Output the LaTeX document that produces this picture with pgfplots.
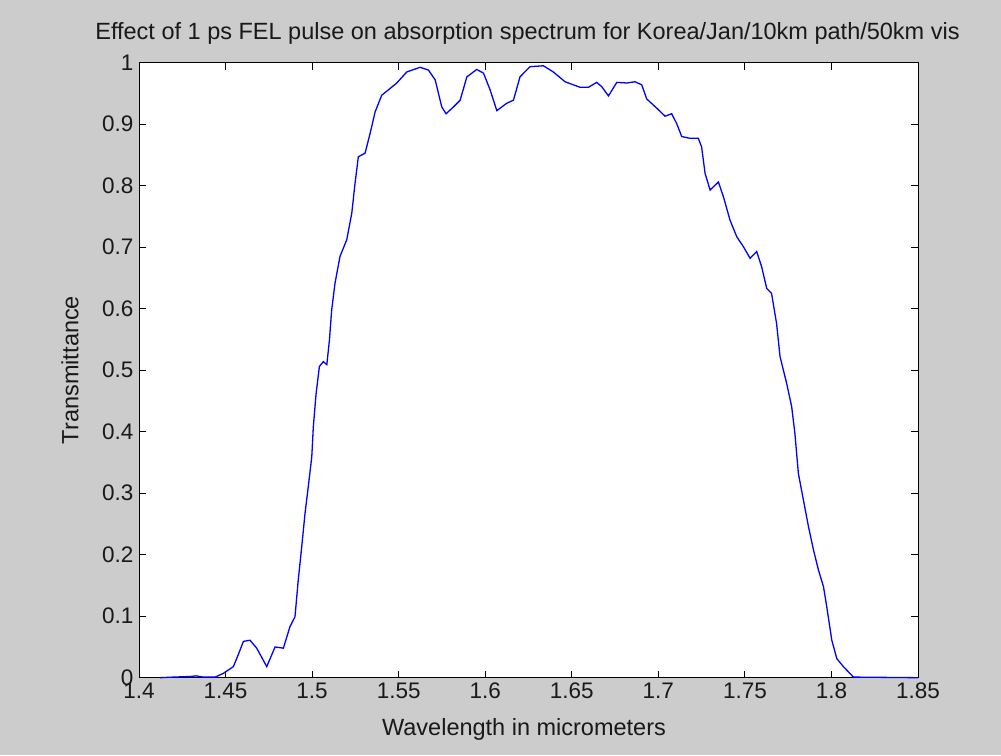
\documentclass[border=0pt]{standalone}
\usepackage{pgfplots}
\pgfplotsset{compat=1.18}
\usepackage{fontspec}
\setmainfont{Liberation Sans}
\definecolor{figgray}{RGB}{204,204,204}
\begin{document}
\begin{tikzpicture}
\fill[figgray] (0pt,0pt) rectangle (1001pt,755pt);
\begin{axis}[
  at={(139pt,77.3pt)}, anchor=south west,
  width=779pt, height=615pt, scale only axis,
  xmin=1.4, xmax=1.85, ymin=0, ymax=1,
  xtick={1.4,1.45,1.5,1.55,1.6,1.65,1.7,1.75,1.8,1.85},
  ytick={0,0.1,0.2,0.3,0.4,0.5,0.6,0.7,0.8,0.9,1},
  tick align=inside, major tick length=7pt,
  tick style={black, line width=0.9pt},
  axis line style={black, line width=1pt},
  axis background/.style={fill=white},
  /pgf/number format/assume math mode=true,
  /pgf/number format/.cd, fixed, precision=2, /pgfplots/.cd,
  tick label style={font=\fontsize{22.5}{26}\selectfont, text=black!90},
  xticklabel style={yshift=-2pt},
  yticklabel style={xshift=-2pt},
  clip=false,
]
\addplot[color={rgb,1:red,0;green,0;blue,1}, line width=1.3pt] coordinates {
(1.412,0) (1.420,0.001) (1.430,0.002) (1.433,0.003) (1.437,0.001) (1.444,0.001)
(1.4487,0.007) (1.4545,0.018) (1.457,0.035) (1.4603,0.059) (1.4641,0.061) (1.468,0.048)
(1.4738,0.018) (1.4786,0.050) (1.4834,0.048) (1.4872,0.083) (1.4901,0.099) (1.4920,0.159)
(1.494,0.213) (1.4959,0.267) (1.4978,0.311) (1.4998,0.359) (1.5007,0.408) (1.5023,0.462)
(1.5042,0.506) (1.5065,0.514) (1.5085,0.509) (1.5100,0.549) (1.5113,0.598) (1.5132,0.641)
(1.5161,0.685) (1.520,0.712) (1.5229,0.755) (1.5248,0.804) (1.5267,0.847) (1.5306,0.853)
(1.5335,0.885) (1.5364,0.920) (1.5402,0.947) (1.545,0.958) (1.5489,0.967) (1.5547,0.985)
(1.5624,0.9925) (1.5672,0.988) (1.5711,0.972) (1.5749,0.928) (1.5774,0.917) (1.5816,0.928)
(1.5855,0.939) (1.5894,0.977) (1.5951,0.989) (1.599,0.983) (1.6028,0.956) (1.6067,0.922)
(1.6124,0.934) (1.6163,0.939) (1.6201,0.977) (1.6259,0.9935) (1.6336,0.995) (1.6393,0.985)
(1.6461,0.969) (1.6548,0.960) (1.6596,0.960) (1.6644,0.968) (1.6673,0.961) (1.6712,0.946)
(1.676,0.968) (1.6818,0.967) (1.6865,0.969) (1.6904,0.964) (1.6933,0.941) (1.6991,0.926)
(1.7039,0.913) (1.7077,0.917) (1.7106,0.901) (1.7135,0.880) (1.7183,0.877) (1.7231,0.877)
(1.725,0.863) (1.727,0.820) (1.7299,0.793) (1.7347,0.806) (1.7376,0.782) (1.7414,0.744)
(1.7453,0.717) (1.7491,0.701) (1.753,0.682) (1.7568,0.693) (1.7597,0.668) (1.7626,0.633)
(1.7654,0.625) (1.7683,0.576) (1.7703,0.522) (1.7741,0.479) (1.777,0.441) (1.7789,0.397)
(1.7809,0.332) (1.7838,0.289) (1.7867,0.246) (1.7896,0.208) (1.7925,0.175) (1.7954,0.148)
(1.7973,0.115) (1.8002,0.061) (1.8031,0.031) (1.8069,0.018) (1.8127,0.001) (1.85,0)
};
\end{axis}
\node[text=black!90, font=\fontsize{23.5}{28}\selectfont] at (527.5pt,722pt) {Effect of 1 ps FEL pulse on absorption spectrum for Korea/Jan/10km path/50km vis};
\node[text=black!90, font=\fontsize{23.5}{28}\selectfont] at (524pt,26pt) {Wavelength in micrometers};
\node[text=black!90, font=\fontsize{23.5}{28}\selectfont, rotate=90] at (70pt,385pt) {Transmittance};
\end{tikzpicture}
\end{document}
